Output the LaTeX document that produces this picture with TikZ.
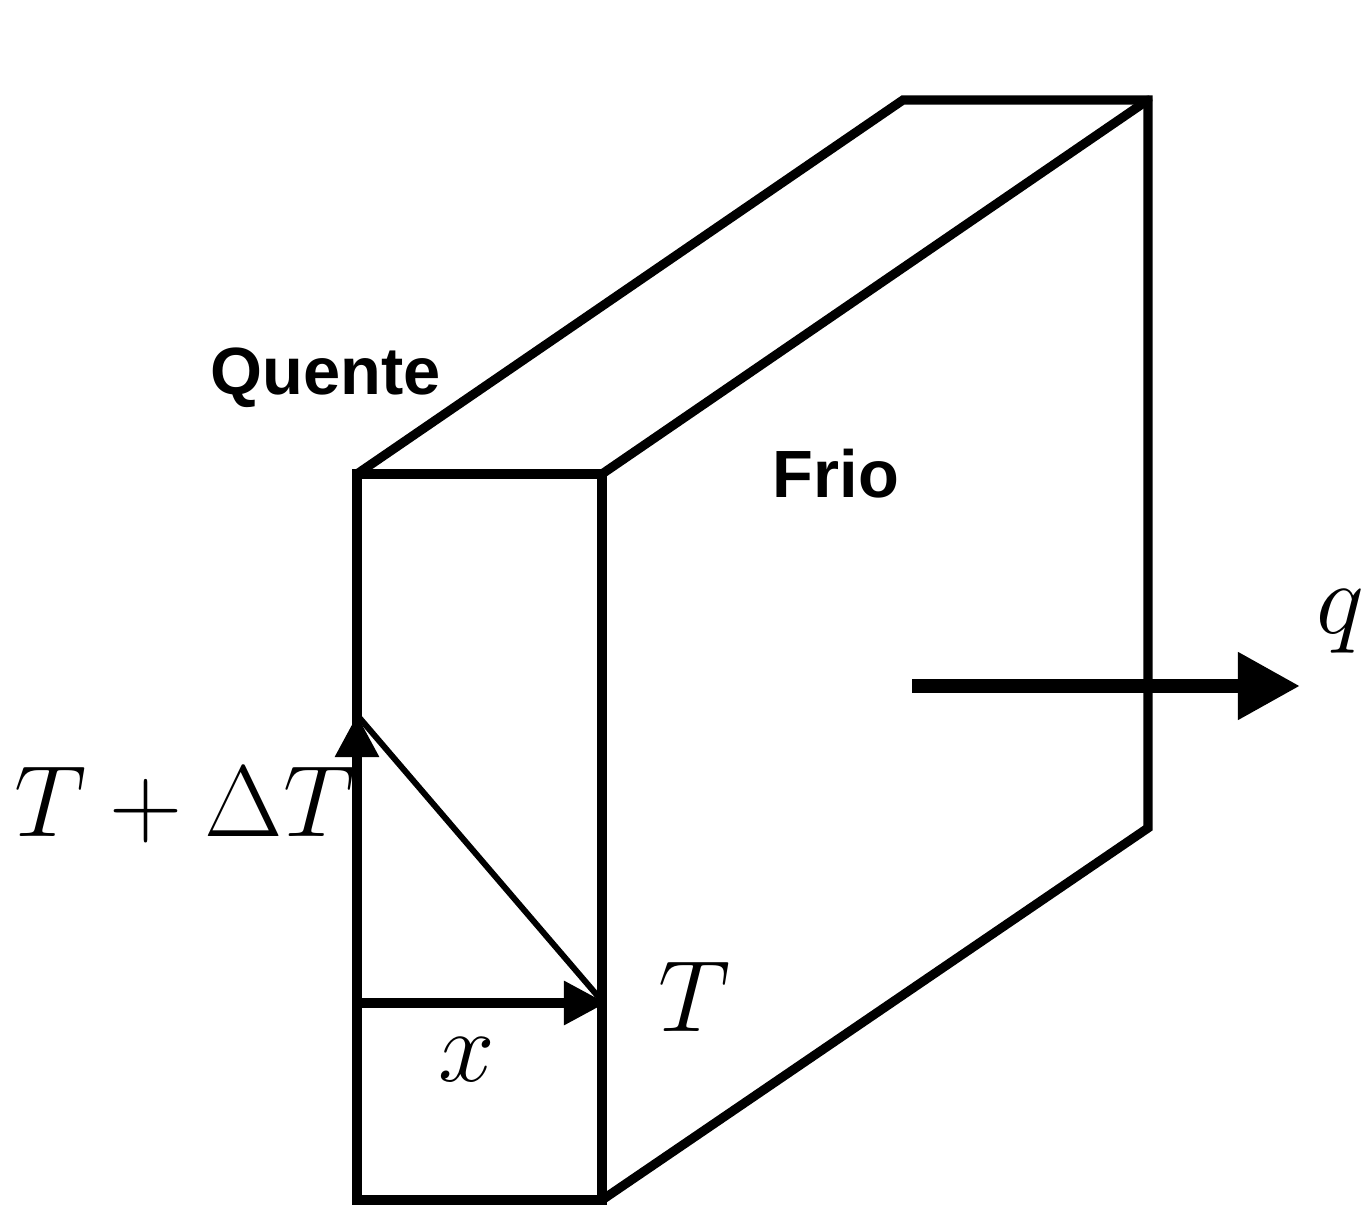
\documentclass[tikz,border=0pt]{standalone}
\usepackage{graphicx}
\usepackage{fontspec}
\setsansfont{Liberation Sans}
\usetikzlibrary{positioning,calc,arrows.meta}

\newcommand{\slabmath}[1]{\scalebox{1.16}{$#1$}}

\tikzset{
    slab/.style={line width=2.6pt, line cap=round},
    flow/.style={line width=2.6pt, -{Triangle[length=0.42cm,width=0.42cm]}},
    heatflow/.style={line width=4pt, -{Triangle[length=0.62cm,width=0.64cm]}},
    side/.style={font=\sffamily\bfseries\fontsize{19}{22}\selectfont},
    mathlabel/.style={font=\fontsize{24.88}{30}\selectfont}
}

\begin{document}
\begin{tikzpicture}[x=0.01cm,y=-0.01cm]
    \useasboundingbox (0,0) rectangle (1366,1207);

    % Corners of the slab
    \coordinate (FTL) at (357,474);
    \coordinate (FTR) at (602,474);
    \coordinate (FBL) at (357,1200);
    \coordinate (FBR) at (602,1200);
    \coordinate (BTL) at (903,100);
    \coordinate (BTR) at (1148,100);
    \coordinate (BBR) at (1148,828);

    % Front face
    \draw[slab] (FTL) -- (FTR) -- (FBR) -- (FBL) -- cycle;
    % Depth edges
    \draw[slab] (FTL) -- (BTL) -- (BTR) -- (BBR) -- (FBR);
    \draw[slab] (FTR) -- (BTR);

    % Temperature profile
    \coordinate (Thot) at (357,715);
    \coordinate (Tcold) at (602,1001);
    \coordinate (X0) at (357,1003);
    \draw[flow] (X0) -- (Thot);
    \draw[flow] (X0) -- ($(Tcold)+(4,2)$);
    \draw[line width=1.7pt] (Thot) -- (Tcold);

    % Heat flux
    \coordinate (Q0) at (912,686);
    \coordinate (Q1) at (1300,686);
    \draw[heatflow] (Q0) -- (Q1);

    % Labels
    \node[side] (quente) at (326,378) {Quente};
    \node[side] (frio) at (836,474) {Frio};
    \node[mathlabel] (hot) at (185,805) {\slabmath{T+\Delta T}};
    \node[mathlabel] (cold) at (695,997) {\slabmath{T}};
    \node[mathlabel] (xlab) at (467,1060) {\slabmath{x}};
    \node[mathlabel] (qlab) at (1340,622) {\slabmath{q}};
\end{tikzpicture}
\end{document}
